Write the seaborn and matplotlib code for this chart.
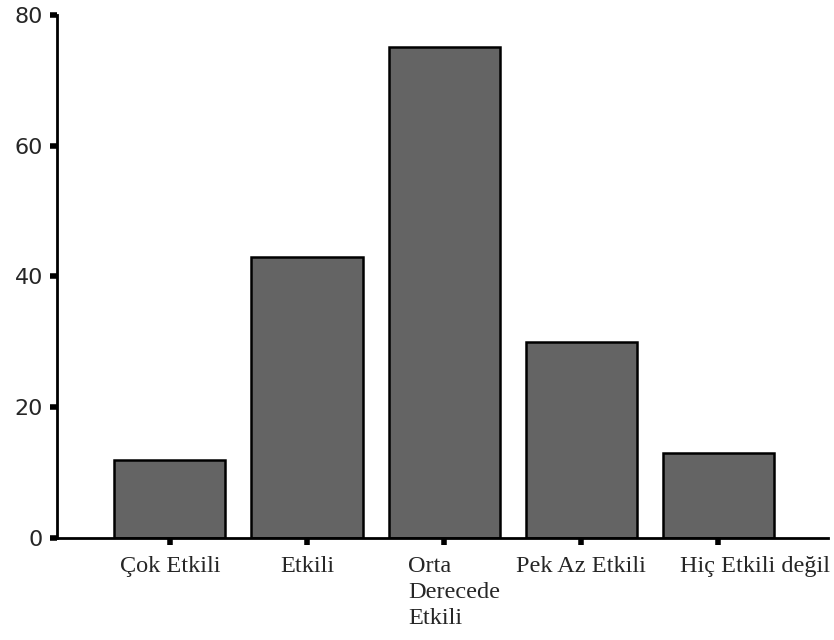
import numpy as np
import pandas as pd
import matplotlib
matplotlib.use("Agg")
import matplotlib.pyplot as plt
import matplotlib.transforms as mtransforms
import seaborn as sns

# values
kategoriler = ["Çok Etkili", "Etkili", "Orta\nDerecede\nEtkili", "Pek Az Etkili", "Hiç Etkili değil"]
degerler = [12, 43, 75, 30, 13]
y_ticks = [0, 20, 40, 60, 80]

df = pd.DataFrame({"kategori": kategoriler, "deger": degerler})

sns.set_style("white")
plt.rcParams['font.family'] = ['DejaVu Sans']

fig = plt.figure(figsize=(8.34, 6.4), dpi=100)
ax = fig.add_axes([0.068, 0.159, 0.925, 0.818])

sns.barplot(data=df, x="kategori", y="deger", color="#646464", saturation=1,
            width=0.81, edgecolor="black", linewidth=1.8, ax=ax)

ax.set_ylim(0, 80)
ax.set_xlim(-0.825, 4.8)
ax.set_yticks(y_ticks)
ax.set_xlabel("")
ax.set_ylabel("")

for side in ["top", "right"]:
    ax.spines[side].set_visible(False)
for side in ["left", "bottom"]:
    ax.spines[side].set_color("black")
    ax.spines[side].set_linewidth(2)

ax.tick_params(axis="y", direction="out", length=5, width=4, color="black",
               labelsize=16, pad=5)
ax.tick_params(axis="x", direction="out", length=5, width=4, color="black", pad=8)
ax.tick_params(left=True, bottom=True)

# the scanned labels are not quite centred under the bars
kaydir = [0, 0, 10, 0, 37]
for lbl, dx in zip(ax.get_xticklabels(), kaydir):
    lbl.set_family("Liberation Serif")
    lbl.set_fontsize(17.5)
    lbl.set_linespacing(1.3)
    lbl.set_multialignment("left")
    lbl.set_verticalalignment("top")
    lbl.set_transform(lbl.get_transform() +
                      mtransforms.ScaledTranslation(dx / 100, 0, fig.dpi_scale_trans))

fig.savefig("out.png", dpi=100)
